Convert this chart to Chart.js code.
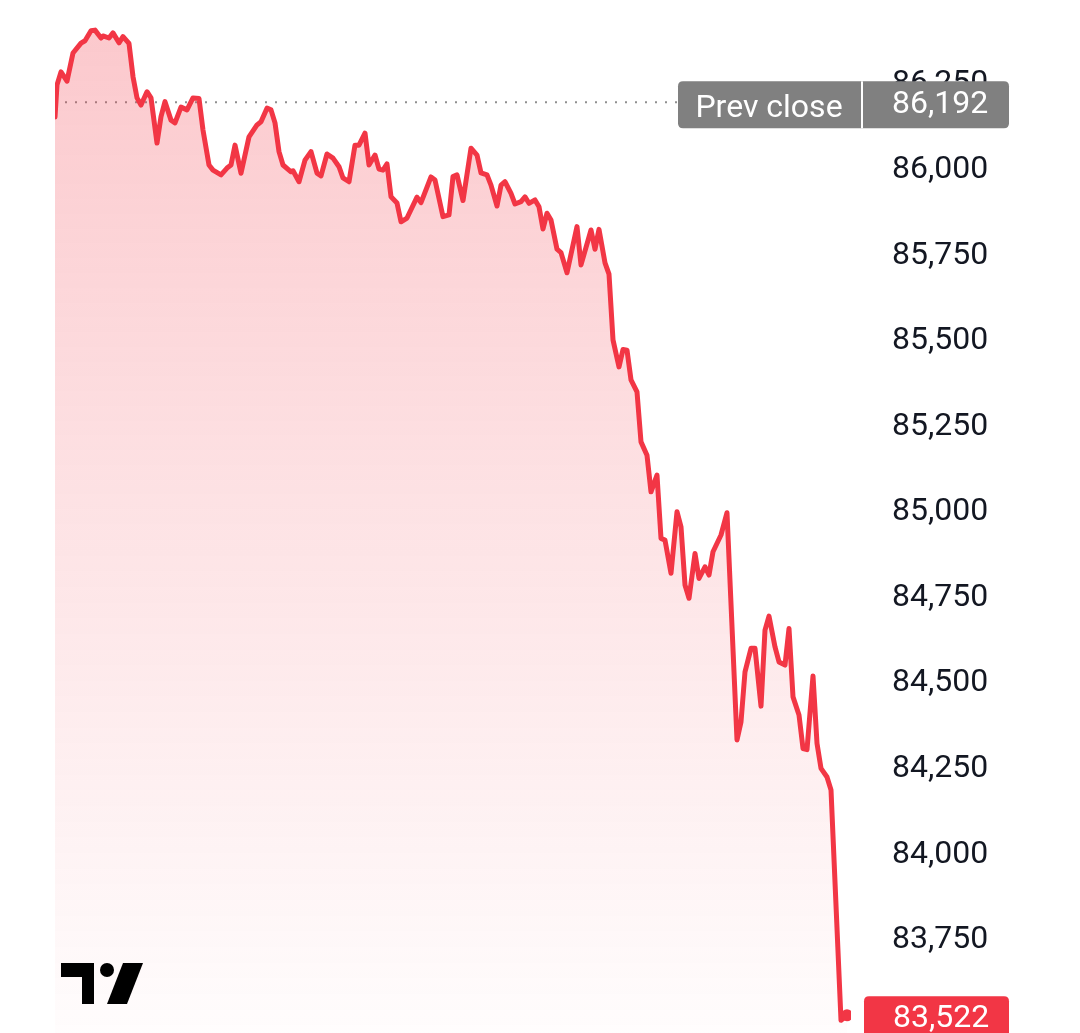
<!DOCTYPE html>
<html>
<head>
<meta charset="utf-8">
<script src="https://cdn.jsdelivr.net/npm/chart.js@4.4.1/dist/chart.umd.min.js"></script>
<style>
  html, body { margin: 0; padding: 0; background: #ffffff; }
  #wrap { width: 1080px; height: 1033px; position: relative; }
</style>
</head>
<body>
<div id="wrap"><canvas id="priceChart"></canvas></div>
<script>
// Minutes from session open
var minutes = [0, 1, 3, 6, 9, 13, 15, 18, 20, 23, 24, 27, 29, 32, 34, 37, 39, 41, 43, 46,
    48, 51, 53, 55, 58, 60, 63, 66, 69, 72, 74, 77, 79, 83, 86, 88, 90, 93, 97, 101,
    103, 106, 108, 110, 112, 114, 118, 119, 122, 125, 128, 131, 133, 136, 139, 142, 144, 147, 150, 152,
    155, 157, 160, 162, 164, 166, 168, 171, 173, 176, 181, 183, 188, 190, 194, 197, 199, 201, 204, 208,
    211, 213, 216, 218, 221, 223, 225, 228, 230, 233, 235, 237, 240, 242, 244, 246, 248, 251, 253, 256,
    261, 263, 268, 270, 272, 275, 277, 279, 282, 284, 286, 288, 291, 293, 296, 298, 301, 303, 305, 308,
    311, 313, 315, 317, 320, 322, 325, 327, 329, 333, 336, 341, 343, 345, 348, 350, 353, 355, 357, 360,
    362, 365, 367, 369, 372, 374, 376, 379, 381, 383, 386, 388, 393, 396];

// Index price at each minute
var prices = [86146, 86240, 86278, 86251, 86333, 86362, 86369, 86398, 86400, 86377, 86383, 86377, 86392, 86363, 86381, 86361, 86264, 86202, 86181, 86220,
    86202, 86070, 86147, 86191, 86137, 86129, 86175, 86167, 86202, 86200, 86108, 86006, 85991, 85977, 85997, 86006, 86064, 85982, 86088, 86123,
    86132, 86172, 86167, 86129, 86045, 86006, 85986, 85989, 85957, 86020, 86045, 85982, 85974, 86038, 86026, 86001, 85968, 85957, 86064, 86064,
    86099, 86006, 86035, 85994, 85991, 86009, 85913, 85895, 85840, 85851, 85912, 85896, 85971, 85962, 85855, 85860, 85972, 85977, 85902, 86055,
    86035, 85983, 85977, 85947, 85886, 85947, 85957, 85923, 85892, 85899, 85913, 85894, 85904, 85884, 85819, 85865, 85845, 85760, 85750, 85691,
    85826, 85714, 85816, 85760, 85818, 85720, 85687, 85495, 85416, 85467, 85465, 85378, 85343, 85197, 85158, 85051, 85100, 84915, 84910, 84813,
    84993, 84949, 84779, 84740, 84871, 84798, 84832, 84808, 84876, 84925, 84990, 84326, 84379, 84525, 84594, 84594, 84425, 84647, 84688, 84598,
    84554, 84545, 84652, 84452, 84399, 84301, 84298, 84513, 84316, 84243, 84218, 84180, 83507, 83522];

// Price axis labels
var tickValues = [83750, 84000, 84250, 84500, 84750, 85000, 85250, 85500, 85750, 86000, 86250];

var prevClose = 86192;
var lastPrice = prices[prices.length - 1];
var yMin = 83470;
var yMax = 86488;

var red = '#F23645';
var points = minutes.map(function(m, i) {
    return { x: m, y: prices[i] };
});

function fmt(v) {
    return v.toLocaleString('en-US');
}

function roundRect(ctx, x, y, w, h, r) {
    ctx.beginPath();
    ctx.moveTo(x + r, y);
    ctx.lineTo(x + w - r, y);
    ctx.quadraticCurveTo(x + w, y, x + w, y + r);
    ctx.lineTo(x + w, y + h - r);
    ctx.quadraticCurveTo(x + w, y + h, x + w - r, y + h);
    ctx.lineTo(x + r, y + h);
    ctx.quadraticCurveTo(x, y + h, x, y + h - r);
    ctx.lineTo(x, y + r);
    ctx.quadraticCurveTo(x, y, x + r, y);
    ctx.closePath();
}

// Dotted previous close line, drawn under the series
var prevCloseLine = {
    id: 'prevCloseLine',
    beforeDatasetsDraw: function(chart) {
        var ctx = chart.ctx;
        var py = chart.scales.y.getPixelForValue(prevClose) + 1;
        ctx.save();
        ctx.strokeStyle = '#8f8f8f';
        ctx.lineWidth = 2;
        ctx.setLineDash([2, 8]);
        ctx.beginPath();
        ctx.moveTo(chart.chartArea.left + 10, py);
        ctx.lineTo(680, py);
        ctx.stroke();
        ctx.restore();
    }
};

// Price tags on the right and the logo
var overlays = {
    id: 'overlays',
    afterDraw: function(chart) {
        var ctx = chart.ctx;
        var y = chart.scales.y;
        var py = y.getPixelForValue(prevClose) + 1;
        var ly = y.getPixelForValue(lastPrice);
        ctx.save();
        ctx.font = '32px Roboto';
        ctx.textBaseline = 'middle';

        // prev close tag
        ctx.fillStyle = '#808080';
        roundRect(ctx, 678, py - 21, 331, 47, 5);
        ctx.fill();
        ctx.fillStyle = '#ffffff';
        ctx.fillRect(861, py - 21, 2, 47);
        ctx.textAlign = 'center';
        ctx.fillText('Prev close', 769, py + 7);
        ctx.textAlign = 'left';
        ctx.fillText(fmt(prevClose), 892, py + 3);

        // last price tag
        ctx.fillStyle = red;
        roundRect(ctx, 864, ly - 19, 145, 44, 5);
        ctx.fill();
        ctx.fillStyle = '#ffffff';
        ctx.fillText(fmt(lastPrice), 893, ly + 4);

        // logo
        ctx.fillStyle = '#000000';
        ctx.fillRect(61, 963, 33, 14);
        ctx.fillRect(82, 963, 12, 41);
        ctx.beginPath();
        ctx.arc(107, 970, 7, 0, Math.PI * 2);
        ctx.fill();
        ctx.beginPath();
        ctx.moveTo(107, 1004);
        ctx.lineTo(127, 1004);
        ctx.lineTo(143, 963);
        ctx.lineTo(123, 963);
        ctx.closePath();
        ctx.fill();
        ctx.restore();
    }
};

var priceCtx = document.getElementById('priceChart').getContext('2d');
var priceChart = new Chart(priceCtx, {
    type: 'line',
    data: {
        datasets: [{
            data: points,
            borderColor: red,
            borderWidth: 5,
            borderJoinStyle: 'round',
            borderCapStyle: 'round',
            tension: 0,
            fill: 'start',
            backgroundColor: function(context) {
                var area = context.chart.chartArea;
                if (!area) return 'rgba(242,54,69,0.2)';
                var g = context.chart.ctx.createLinearGradient(0, area.top, 0, area.bottom);
                g.addColorStop(0, 'rgba(242,54,69,0.28)');
                g.addColorStop(0.5, 'rgba(242,54,69,0.14)');
                g.addColorStop(1, 'rgba(242,54,69,0.01)');
                return g;
            },
            pointRadius: function(c) { return c.dataIndex === prices.length - 1 ? 6 : 0; },
            pointBackgroundColor: red,
            pointBorderWidth: 0,
            pointHoverRadius: 0
        }]
    },
    options: {
        responsive: true,
        maintainAspectRatio: false,
        animation: false,
        layout: { autoPadding: false, padding: { left: 55, top: 0, bottom: 0, right: 0 } },
        plugins: { legend: { display: false }, tooltip: { enabled: false } },
        scales: {
            x: { type: 'linear', display: false, min: 0, max: 398 },
            y: {
                position: 'right',
                min: yMin,
                max: yMax,
                border: { display: false },
                grid: { display: false, drawTicks: false },
                ticks: {
                    padding: 41,
                    labelOffset: 3,
                    color: '#131722',
                    font: { family: 'Roboto', size: 32 },
                    callback: function(v) { return fmt(v); }
                },
                afterBuildTicks: function(scale) {
                    scale.ticks = tickValues.map(function(v) { return { value: v }; });
                },
                afterFit: function(scale) {
                    scale.width = 229;
                    scale.paddingTop = 0;
                    scale.paddingBottom = 0;
                }
            }
        }
    },
    plugins: [prevCloseLine, overlays]
});
</script>
</body>
</html>
